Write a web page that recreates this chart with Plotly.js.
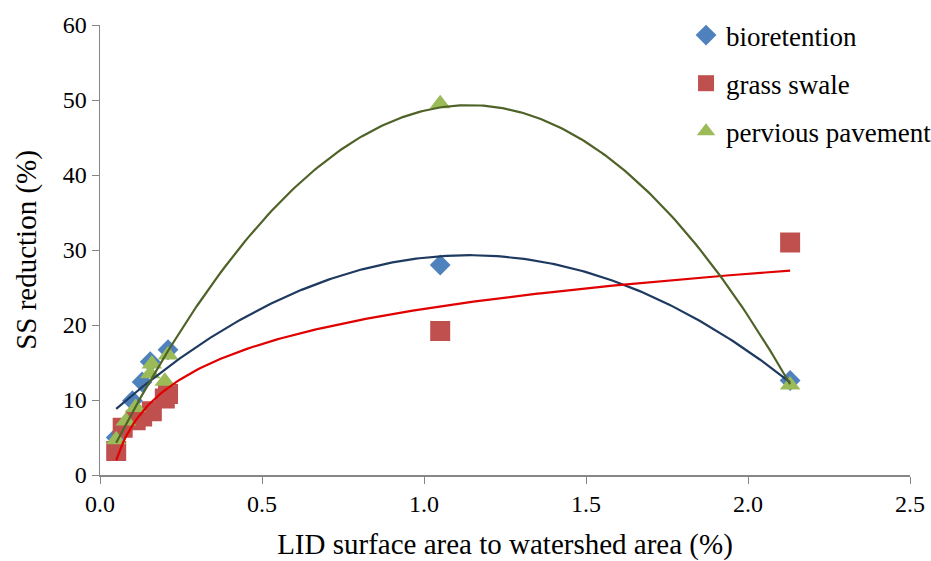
<!DOCTYPE html>
<html><head><meta charset="utf-8">
<script src="https://cdn.plot.ly/plotly-3.0.1.min.js"></script>
<style>html,body{margin:0;padding:0;background:#fff}#chart{width:931px;height:561px}</style>
</head><body><div id="chart"></div>
<script>
const seriesNames = ["bioretention", "grass swale", "pervious pavement"];
const bioX = [0.05, 0.10, 0.13, 0.155, 0.21, 1.05, 2.13];
const bioY = [5.0, 9.9, 12.4, 15.1, 16.7, 28.0, 12.6];
const grassX = [0.05, 0.07, 0.11, 0.13, 0.16, 0.20, 0.21, 1.05, 2.13];
const grassY = [3.2, 6.3, 7.3, 7.8, 8.5, 10.2, 10.8, 19.2, 31.0];
const pervX = [0.05, 0.08, 0.11, 0.155, 0.16, 0.20, 0.21, 1.05, 2.13];
const pervY = [4.7, 7.2, 9.0, 13.5, 14.8, 12.5, 16.0, 49.5, 12.0];
const xTickVals = [0, 0.5, 1.0, 1.5, 2.0, 2.5];
const yTickVals = [0, 10, 20, 30, 40, 50, 60];

function solve3(A, b) {
  const M = A.map((r, i) => r.concat([b[i]]));
  for (let i = 0; i < 3; i++) {
    let p = i;
    for (let k = i + 1; k < 3; k++) if (Math.abs(M[k][i]) > Math.abs(M[p][i])) p = k;
    [M[i], M[p]] = [M[p], M[i]];
    for (let k = i + 1; k < 3; k++) {
      const f = M[k][i] / M[i][i];
      for (let j = i; j < 4; j++) M[k][j] -= f * M[i][j];
    }
  }
  const x = [0, 0, 0];
  for (let i = 2; i >= 0; i--) {
    let s = M[i][3];
    for (let j = i + 1; j < 3; j++) s -= M[i][j] * x[j];
    x[i] = s / M[i][i];
  }
  return x;
}
function polyFit(xs, ys) {
  const S = [0, 0, 0, 0, 0], T = [0, 0, 0];
  xs.forEach((x, i) => {
    for (let k = 0; k < 5; k++) S[k] += Math.pow(x, k);
    for (let k = 0; k < 3; k++) T[k] += ys[i] * Math.pow(x, k);
  });
  const c = solve3([[S[0], S[1], S[2]], [S[1], S[2], S[3]], [S[2], S[3], S[4]]], T);
  return x => c[0] + c[1] * x + c[2] * x * x;
}
function logFit(xs, ys) {
  const n = xs.length;
  const lx = xs.map(Math.log);
  const mx = lx.reduce((a, b) => a + b) / n, my = ys.reduce((a, b) => a + b) / n;
  let sxy = 0, sxx = 0;
  lx.forEach((v, i) => { sxy += (v - mx) * (ys[i] - my); sxx += (v - mx) * (v - mx); });
  const b = sxy / sxx, a = my - b * mx;
  return x => a + b * Math.log(x);
}
function curve(xs, f) {
  const lo = Math.min(...xs), hi = Math.max(...xs);
  const cx = [], cy = [];
  for (let i = 0; i <= 200; i++) { const x = lo + (hi - lo) * i / 200; cx.push(x); cy.push(f(x)); }
  return {x: cx, y: cy};
}
const cb = curve(bioX, polyFit(bioX, bioY));
const cg = curve(grassX, logFit(grassX, grassY));
const cp = curve(pervX, polyFit(pervX, pervY));

const font = "Liberation Serif";
const data = [
  {x: bioX, y: bioY, mode: "markers", type: "scatter", name: seriesNames[0], legendgroup: "a",
   marker: {symbol: "diamond", size: 16, color: "#4F81BD"}},
  {x: grassX, y: grassY, mode: "markers", type: "scatter", name: seriesNames[1], legendgroup: "b",
   marker: {symbol: "square", size: 20, color: "#C0504D"}},
  {x: pervX, y: pervY, mode: "markers", type: "scatter", name: seriesNames[2], legendgroup: "c",
   marker: {symbol: "triangle-up", size: 18, color: "#9BBB59"}},
  {x: cb.x, y: cb.y, mode: "lines", type: "scatter", showlegend: false, hoverinfo: "skip",
   line: {color: "#1F3A60", width: 2.2}},
  {x: cg.x, y: cg.y, mode: "lines", type: "scatter", showlegend: false, hoverinfo: "skip",
   line: {color: "#E00000", width: 2.2}},
  {x: cp.x, y: cp.y, mode: "lines", type: "scatter", showlegend: false, hoverinfo: "skip",
   line: {color: "#4F6228", width: 2.2}}
];
const layout = {
  width: 931, height: 561,
  margin: {l: 100, r: 21, t: 25, b: 86, autoexpand: false},
  paper_bgcolor: "#fff", plot_bgcolor: "#fff",
  font: {family: font, size: 24, color: "#000"},
  showlegend: true,
  legend: {x: 0.7235, xanchor: "left", y: 1.031, yanchor: "top", font: {family: font, size: 27, color: "#000"},
           tracegroupgap: 10, traceorder: "grouped", bgcolor: "rgba(0,0,0,0)", itemwidth: 30},
  xaxis: {range: [0, 2.5], tickvals: xTickVals, tickformat: ".1f", showgrid: false, zeroline: false,
          showline: true, linecolor: "#868686", linewidth: 1.5, ticks: "outside", ticklen: 7,
          tickcolor: "#868686", tickfont: {family: font, size: 24, color: "#000"},
          title: {text: "LID surface area to watershed area (%)", font: {family: font, size: 29, color: "#000"}, standoff: 18}},
  yaxis: {range: [0, 60], tickvals: yTickVals, showgrid: false, zeroline: false,
          showline: true, linecolor: "#868686", linewidth: 1.5, ticks: "outside", ticklen: 7,
          tickcolor: "#868686", tickfont: {family: font, size: 24, color: "#000"},
          title: {text: "SS reduction (%)", font: {family: font, size: 29, color: "#000"}, standoff: 17}}
};
Plotly.newPlot("chart", data, layout, {displayModeBar: false, staticPlot: true});
</script></body></html>
